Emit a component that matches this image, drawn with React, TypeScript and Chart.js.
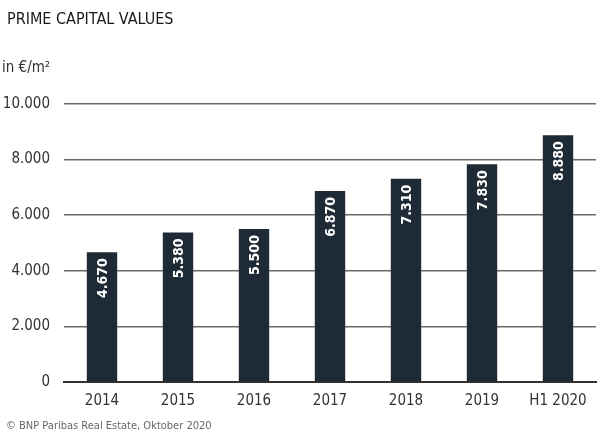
import React, { useEffect, useRef } from "react";
import { Chart, registerables } from "chart.js";

Chart.register(...registerables);

const categories = ["2014", "2015", "2016", "2017", "2018", "2019", "H1 2020"];
const values = [4670, 5380, 5500, 6870, 7310, 7830, 8880];
const valueLabels = ["4.670", "5.380", "5.500", "6.870", "7.310", "7.830", "8.880"];
const yTicks = [0, 2000, 4000, 6000, 8000, 10000];
const titleText = "PRIME CAPITAL VALUES";
const unitText = "in €/m²";
const sourceText = "© BNP Paribas Real Estate, Oktober 2020";

const FONT = "'Liberation Sans Narrow', 'DejaVu Sans Condensed', 'Liberation Sans', sans-serif";

const fmt = (v: number) => v.toLocaleString("de-DE");

const textPlugin = {
  id: "texts",
  afterDraw(chart: any) {
    const ctx = chart.ctx;
    ctx.save();
    ctx.fillStyle = "#1a1a1a";
    ctx.textBaseline = "alphabetic";
    ctx.textAlign = "left";
    ctx.font = `16px ${FONT}`;
    ctx.fillText(titleText, 7, 24);
    ctx.font = `15px ${FONT}`;
    ctx.fillStyle = "#333";
    ctx.fillText(unitText, 2, 72);
    ctx.font = `11px ${FONT}`;
    ctx.fillStyle = "#666";
    ctx.fillText(sourceText, 6, 429);

    // value labels inside bars
    const meta = chart.getDatasetMeta(0);
    ctx.font = `bold 14px ${FONT}`;
    ctx.fillStyle = "#ffffff";
    meta.data.forEach((bar: any, i: number) => {
      ctx.save();
      ctx.translate(bar.x, bar.y + 6);
      ctx.rotate(-Math.PI / 2);
      ctx.textAlign = "right";
      ctx.textBaseline = "middle";
      ctx.fillText(valueLabels[i], 0, 1);
      ctx.restore();
    });
    ctx.restore();
  },
};

export default function App() {
  const ref = useRef<HTMLCanvasElement>(null);
  useEffect(() => {
    if (!ref.current) return;
    const chart = new Chart(ref.current, {
      type: "bar",
      data: {
        labels: categories,
        datasets: [
          {
            data: values,
            backgroundColor: "#1e2a36",
            barPercentage: 0.4,
            categoryPercentage: 1,
          },
        ],
      },
      options: {
        animation: false,
        responsive: false,
        devicePixelRatio: 1,
        layout: { padding: { left: 0, right: 4, top: 104, bottom: 20 } },
        plugins: { legend: { display: false }, tooltip: { enabled: false } },
        scales: {
          x: {
            grid: { display: false, drawTicks: false },
            border: { display: true, color: "#333", width: 2 },
            ticks: { color: "#333", font: { family: FONT, size: 15 }, padding: 10 },
            afterFit: (s: any) => {
              s.height = 40;
            },
          },
          y: {
            min: 0,
            max: 10000,
            afterBuildTicks: (s: any) => {
              s.ticks = yTicks.map((v) => ({ value: v }));
            },
            grid: { color: "#6a6a6a", lineWidth: 1.5, drawTicks: false },
            border: { display: false },
            ticks: {
              color: "#333",
              font: { family: FONT, size: 15 },
              padding: 14,
              callback: (v: any) => fmt(Number(v)),
            },
            afterFit: (s: any) => {
              s.width = 64;
            },
          },
        },
      },
      plugins: [textPlugin],
    });
    return () => chart.destroy();
  }, []);
  return (
    <div style={{ position: "fixed", left: 0, top: 0, width: 600, height: 442, background: "#fff" }}>
      <canvas ref={ref} width={600} height={442} style={{ width: 600, height: 442 }} />
    </div>
  );
}
